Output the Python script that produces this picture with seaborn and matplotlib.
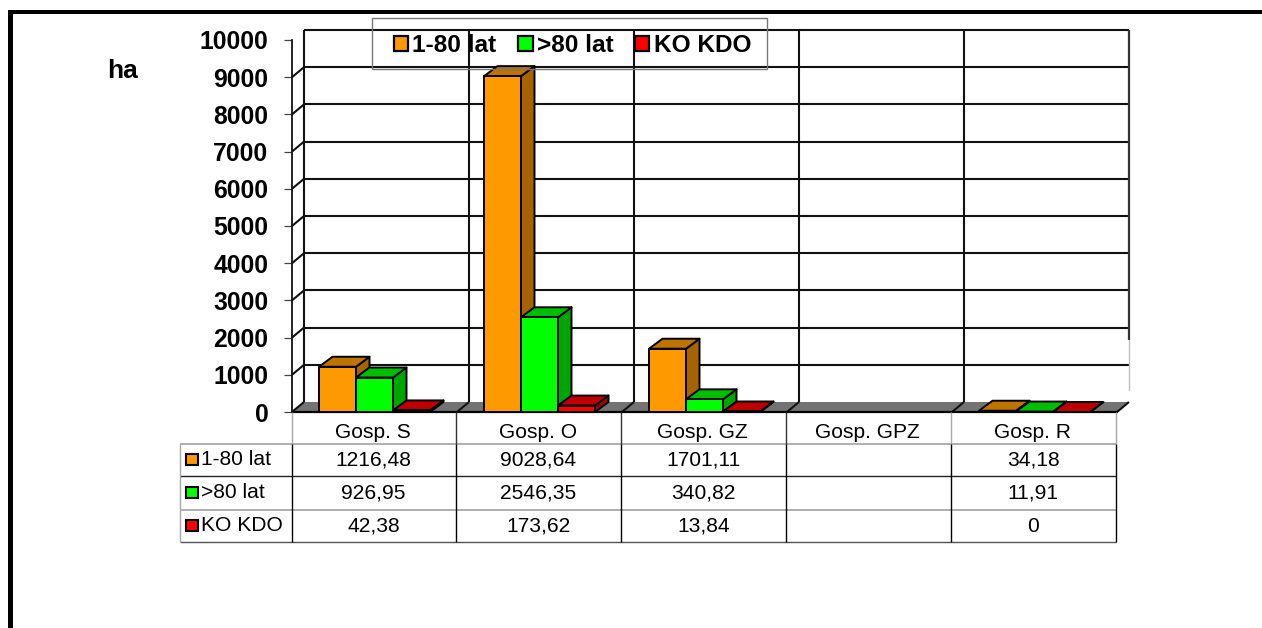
import numpy as np
import pandas as pd
import matplotlib
matplotlib.use("Agg")
import matplotlib.pyplot as plt
from matplotlib.patches import Polygon, Rectangle
from matplotlib.lines import Line2D
from matplotlib.transforms import Affine2D
import seaborn as sns

categories = ["Gosp. S", "Gosp. O", "Gosp. GZ", "Gosp. GPZ", "Gosp. R"]
series_names = ["1-80 lat", ">80 lat", "KO KDO"]
young = [1216.48, 9028.64, 1701.11, None, 34.18]
old = [926.95, 2546.35, 340.82, None, 11.91]
kdo = [42.38, 173.62, 13.84, None, 0]
young_txt = ["1216,48", "9028,64", "1701,11", "", "34,18"]
old_txt = ["926,95", "2546,35", "340,82", "", "11,91"]
kdo_txt = ["42,38", "173,62", "13,84", "", "0"]
front_cols = ["#FF9900", "#00FF00", "#FF0000"]
side_cols = ["#A66300", "#00A600", "#A60000"]
top_cols = ["#BF7300", "#00BF00", "#BF0000"]
yticks = list(range(0, 10001, 1000))

W, H = 1262, 628
sns.set_theme(style="white")
plt.rcParams["font.family"] = ["Liberation Sans", "DejaVu Sans"]
fig = plt.figure(figsize=(W / 100, H / 100), dpi=100, facecolor="white")
px = Affine2D().scale(1 / W, -1 / H).translate(0, 1) + fig.transFigure

L, R, T, B = 292, 1117, 40, 412
ax = fig.add_axes([L / W, 1 - B / H, (R - L) / W, (B - T) / H])
ax.patch.set_alpha(0)

df = pd.DataFrame({"cat": categories * 3,
                   "series": sum([[s] * 5 for s in series_names], []),
                   "val": young + old + kdo})
df["val"] = pd.to_numeric(df["val"])
sns.barplot(data=df, x="cat", y="val", hue="series", order=categories,
            hue_order=series_names, palette=front_cols, width=111 / 165, gap=0,
            saturation=1, edgecolor="black", linewidth=1.4, ax=ax, errorbar=None,
            legend=True)
ax.set_xlim(-0.5, 4.5)
ax.set_ylim(0, 10000)
ax.set_xlabel("")
ax.set_ylabel("")
ax.set_xticks([])
ax.set_yticks(yticks)
ax.tick_params(axis="y", left=True, length=6, width=0.9, color="#444444", pad=11)
for lab in ax.get_yticklabels():
    lab.set_fontsize(17.8)
    lab.set_fontweight("bold")
    lab.set_color("black")
for s in ["top", "right", "bottom"]:
    ax.spines[s].set_visible(False)
ax.spines["left"].set_color("#111111")
ax.spines["left"].set_linewidth(1.3)

# depth of the pseudo-3D box and of the bars, expressed in data units
wall_dx = 12 / 165
dx = 13.5 / 165
dy = 10 / (B - T) * 10000
xl, xr = -0.5, 4.5
line = dict(color="#111111", lw=1.5, clip_on=False, solid_capstyle="butt")

# back wall and side wall grid
for v in yticks[1:]:
    ax.plot([xl + wall_dx, xr + wall_dx], [v + dy, v + dy], zorder=1, **line)
    if v < yticks[-1]:
        ax.plot([xl, xl + wall_dx], [v, v + dy], zorder=1, **line)
for i in range(6):
    x = xl + i + wall_dx
    if i < 5:
        ax.plot([x, x], [dy, 10000 + dy], zorder=1, **line)
    else:
        ax.plot([x, x], [1935, 10000 + dy], zorder=1, color="#333333", lw=1.6,
                clip_on=False, solid_capstyle="butt")
        ax.plot([x, x], [590, 1935], zorder=1, color="#bdbdbd", lw=1.0, clip_on=False)

# floor
ax.add_patch(Polygon([(xl, 0), (xr, 0), (xr + wall_dx, dy), (xl + wall_dx, dy)], closed=True,
                     facecolor="#737373", edgecolor="none", zorder=1.5, clip_on=False))
for i in range(6):
    ax.plot([xl + i, xl + i + wall_dx], [0, dy], zorder=1.6, **line)
ax.plot([xl, xr], [0, 0], zorder=1.6, color="black", lw=1.6, clip_on=False)

# side and top faces of each bar, derived from the bars seaborn drew
for c, cont in enumerate(ax.containers):
    for bar in cont:
        h = bar.get_height()
        if not np.isfinite(h):
            continue
        x0, w = bar.get_x(), bar.get_width()
        x1 = x0 + w
        z = 3 + x0 / 10 + 1
        edge = dict(edgecolor="black", linewidth=1.4, joinstyle="round", clip_on=False)
        ax.add_patch(Polygon([(x1, 0), (x1 + dx, dy), (x1 + dx, h + dy), (x1, h)],
                             closed=True, facecolor=side_cols[c], zorder=z, **edge))
        ax.add_patch(Polygon([(x0, h), (x1, h), (x1 + dx, h + dy), (x0 + dx, h + dy)],
                             closed=True, facecolor=top_cols[c], zorder=z, **edge))
        bar.set_zorder(z + 0.001)
        bar.set_clip_on(False)

# legend
ax.add_patch(Rectangle((371.5, 18), 395.5, 50.5, transform=px, facecolor="none",
                       edgecolor="#777777", linewidth=1, zorder=8, clip_on=False))
sns.move_legend(ax, loc="center", bbox_to_anchor=(572.5, 46), bbox_transform=px, ncol=3,
                title=None, frameon=False, prop={"size": 17.6, "weight": "bold"},
                handlelength=0.58, handleheight=0.58, handletextpad=0.17,
                columnspacing=0.9, borderpad=0, borderaxespad=0)
leg = ax.get_legend()
leg.set_zorder(9)
for hd in leg.legend_handles:
    hd.set_edgecolor("black")
    hd.set_linewidth(1.6)
for t in leg.get_texts():
    t.set_color("black")

# unit label
fig.text(107, 71, "ha", transform=px, fontsize=19, fontweight="bold", color="black",
         ha="left", va="center")

# data table
col_x = [291.5 + 164.9 * i for i in range(6)]
row_y = [443.5, 476, 509.5, 542]
hdr_y = 412
tl = dict(transform=px, clip_on=False, solid_capstyle="butt")
def pxline(xs, ys, color="black", lw=1.0):
    fig.add_artist(Line2D(xs, ys, color=color, lw=lw, **tl))
pxline([180, col_x[-1]], [row_y[0]] * 2, "#a8a8a8", 1.3)
pxline([180, col_x[-1]], [row_y[1]] * 2, "#222222", 1.0)
pxline([180, col_x[-1]], [row_y[2]] * 2, "#a8a8a8", 1.3)
pxline([180, col_x[-1]], [row_y[3]] * 2, "#555555", 1.0)
pxline([180, 180], [row_y[0], row_y[3]], "#a8a8a8", 1.0)
for i, x in enumerate(col_x):
    pxline([x, x], [hdr_y, row_y[0]], "#a8a8a8" if i in (0, 4, 5) else "#333333", 1.0)
    pxline([x, x], [row_y[0], row_y[3]], "black", 1.0)
tfont = dict(fontsize=15.1, color="black", transform=px, va="center")
for i, c in enumerate(categories):
    fig.text((col_x[i] + col_x[i + 1]) / 2 - 1, 432.5, c, ha="center", **tfont)
for r, (name, vals) in enumerate(zip(series_names, [young_txt, old_txt, kdo_txt])):
    ym = (row_y[r] + row_y[r + 1]) / 2 - 0.5
    fig.add_artist(Rectangle((186, ym - 5), 12, 11, transform=px, facecolor=front_cols[r],
                             edgecolor="black", linewidth=1.5))
    fig.text(201, ym + 0.5, name, ha="left", **tfont)
    for i, v in enumerate(vals):
        if v:
            fig.text((col_x[i] + col_x[i + 1]) / 2 - 0.5, ym + 1, v, ha="center", **tfont)

# outer slide frame
fig.add_artist(Rectangle((8, 10), W - 8, 3.5, transform=px, facecolor="black", edgecolor="none"))
fig.add_artist(Rectangle((8, 10), 5, H - 10, transform=px, facecolor="black", edgecolor="none"))

fig.savefig("out.png", dpi=100, facecolor="white")
